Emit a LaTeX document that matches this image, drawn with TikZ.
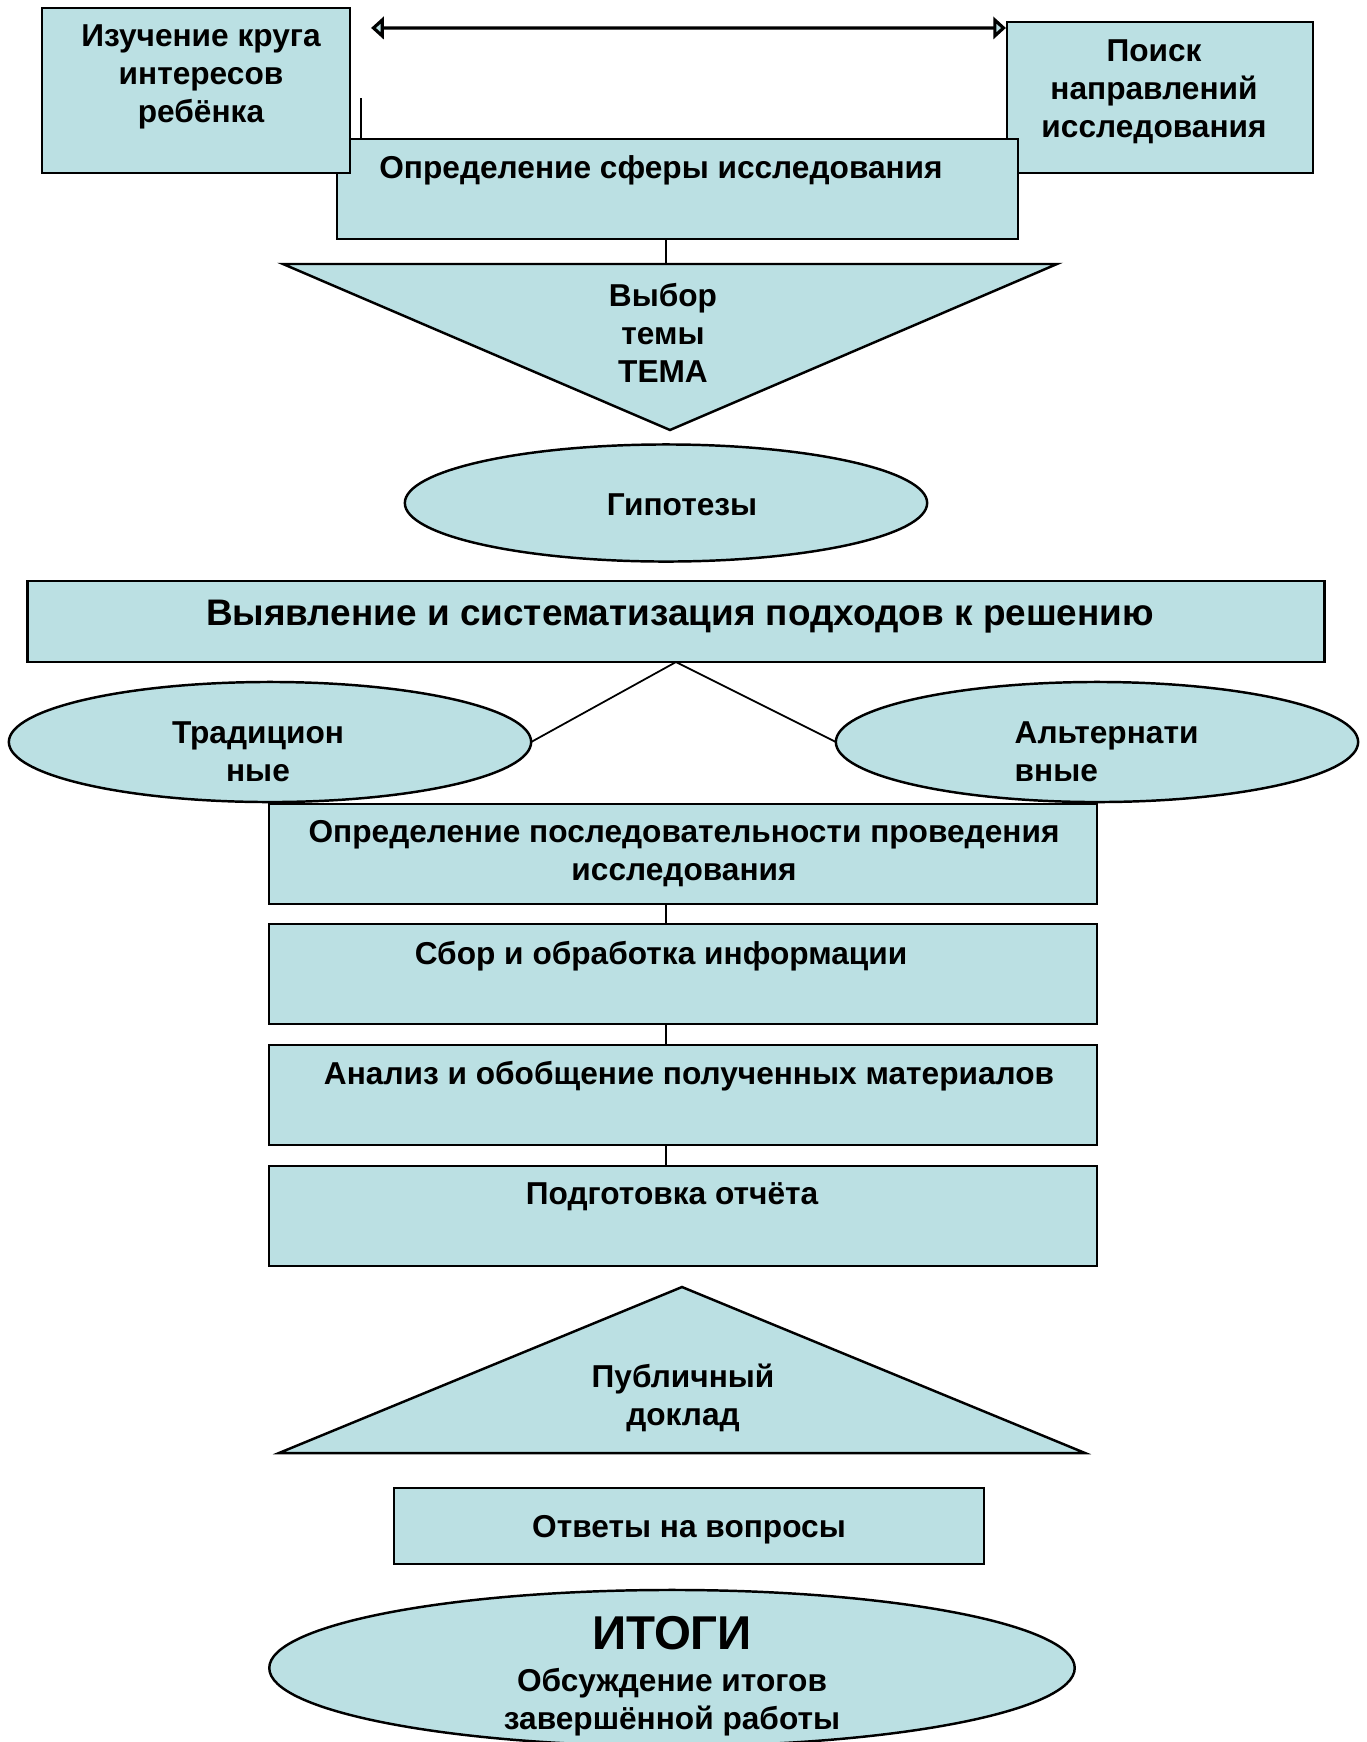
\documentclass[tikz,border=0pt]{standalone}
\usepackage{fontspec}
\setmainfont{Liberation Sans}
\usetikzlibrary{shapes.geometric,arrows.meta,positioning}
\definecolor{tema}{RGB}{187,224,227}
\begin{document}
\begin{tikzpicture}[
x=0.01cm, y=-0.01cm,
every node/.style={font=\bfseries\fontsize{9}{10.8}\selectfont},
fig/.style={draw, fill=tema, line width=0.7pt},
box/.style={fig, inner sep=0pt, outer sep=0pt},
oval/.style={fig, ellipse, inner sep=0pt, outer sep=0pt},
txt/.style={align=center, inner sep=0pt},
link/.style={line width=0.5pt},
headtip/.tip={Triangle[length=3.6pt, width=6.3pt, fill=tema]}
]
\useasboundingbox (0,0) rectangle (1366,1742);

% top row
\node[box, minimum width=3.06cm, minimum height=1.51cm] (poisk) at (1160,97.5) {};
\node[box, minimum width=6.81cm, minimum height=1cm] (sfera) at (677.5,189) {};
\node[box, minimum width=3.08cm, minimum height=1.65cm] (izuch) at (196,90.5) {};
\node[txt] (izuchT) at (201,77) {Изучение круга\\интересов\\ребёнка};
\node[txt] (poiskT) at (1154,92) {Поиск\\направлений\\исследования};
\node[txt] (sferaT) at (661,170) {Определение сферы исследования};
\draw[line width=0.9pt, headtip-headtip]
  ([shift={(21,20)}]izuch.north east) -- ([shift={(-1,6)}]poisk.north west);
\draw[link] ([shift={(24,0)}]sfera.north west) -- ++(0,-41);

% theme
\draw[fig] (283,264) coordinate (vl) -- (1057,264) coordinate (vr) -- (670,430) coordinate (vb) -- cycle;
\coordinate (vt) at (666,264);
\draw[link] (sfera.south -| vt) -- (vt);
\node[txt] (vyborT) at (663,333) {Выбор\\темы\\ТЕМА};

\node[oval, minimum width=5.22cm, minimum height=1.17cm] (gip) at (666,503) {};
\node[txt] (gipT) at (682,505) {Гипотезы};

% approaches
\node[box, minimum width=12.96cm, minimum height=0.81cm] (sist) at (676,621.5) {};
\node[txt, font=\bfseries\fontsize{10.5}{12.6}\selectfont] (sistT) at (680,617) {Выявление и систематизация подходов к решению};
\node[oval, minimum width=5.22cm, minimum height=1.2cm] (trad) at (270,742) {};
\node[oval, minimum width=5.22cm, minimum height=1.2cm] (alt) at (1097,742) {};
\node[txt] (tradT) at (258,752) {Традицион\\ные};
\node[txt, align=left, anchor=west] (altT) at (1014,752) {Альтернати\\вные};
\draw[link] (sist.south) -- (trad.east);
\draw[link] (sist.south) -- (alt.west);

% steps
\foreach \nm/\y in {posl/854, sbor/974, analiz/1095, podg/1216}
  \node[box, minimum width=8.28cm, minimum height=1cm] (\nm) at (683,\y) {};
\foreach \a/\b in {posl/sbor, sbor/analiz, analiz/podg}
  \draw[link] ([shift={(-17,0)}]\a.south) -- ([shift={(-17,0)}]\b.north);
\node[txt] (poslT) at (684,854) {Определение последовательности проведения\\исследования};
\node[txt] (sborT) at (661,956) {Сбор и обработка информации};
\node[txt] (analizT) at (689,1076) {Анализ и обобщение полученных материалов};
\node[txt] (podgT) at (672,1197) {Подготовка отчёта};

% report
\draw[fig] (279,1453) coordinate (pl) -- (1085,1453) coordinate (pr) -- (682,1287) coordinate (pt) -- cycle;
\node[txt] (publT) at (683,1398) {Публичный\\доклад};
\node[box, minimum width=5.9cm, minimum height=0.76cm] (otv) at (689,1526) {};
\node[txt] (otvT) at (689,1530) {Ответы на вопросы};

% results
\node[oval, minimum width=8.05cm, minimum height=1.56cm] (itogi) at (672,1668) {};
\node[txt, font=\bfseries\fontsize{13.5}{16}\selectfont] (itogiT) at (672,1633) {ИТОГИ};
\node[txt] (obsT) at (672,1702) {Обсуждение итогов\\завершённой работы};
\end{tikzpicture}
\end{document}
